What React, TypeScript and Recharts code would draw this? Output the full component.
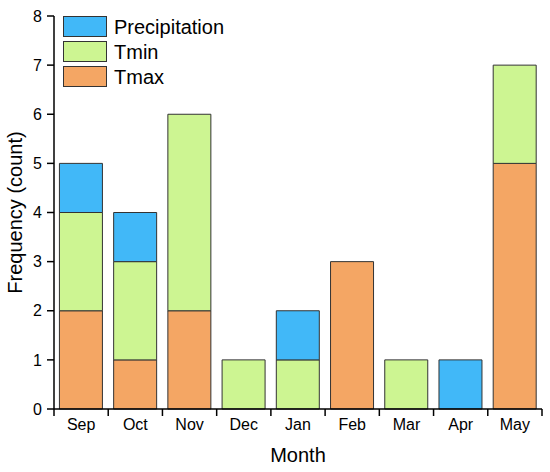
import React from "react";
import { BarChart, Bar, XAxis, YAxis, Legend } from "recharts";

const months = ["Sep", "Oct", "Nov", "Dec", "Jan", "Feb", "Mar", "Apr", "May"];
const tmax = [2, 1, 2, 0, 0, 3, 0, 0, 5];
const tmin = [2, 2, 4, 1, 1, 0, 1, 0, 2];
const precipitation = [1, 1, 0, 0, 1, 0, 0, 1, 0];
const yTicks = [0, 1, 2, 3, 4, 5, 6, 7, 8];

const data = months.map((m, i) => ({
  month: m,
  tmax: tmax[i],
  tmin: tmin[i],
  precipitation: precipitation[i],
}));

const W = 550;
const H = 472;
const MARGIN = { top: 16, right: 8, bottom: 0, left: 0 };
const Y_AXIS_W = 54;
const X_AXIS_H = 63;
const BAND = (W - MARGIN.left - MARGIN.right - Y_AXIS_W) / months.length;

const COLORS = {
  precipitation: "#41B8F8",
  tmin: "#CDF592",
  tmax: "#F4A664",
};
const EDGE = "#333333";

const MonthTick = (props: any) => {
  const { x, y, payload, index } = props;
  const half = BAND / 2;
  return (
    <g>
      <line x1={x - half} y1={y} x2={x - half} y2={y + 7} stroke="#000" strokeWidth={1.5} />
      {index === months.length - 1 && (
        <line x1={x + half} y1={y} x2={x + half} y2={y + 7} stroke="#000" strokeWidth={1.5} />
      )}
      <text x={x} y={y + 21} textAnchor="middle" fontSize={16} fill="#000">
        {payload.value}
      </text>
    </g>
  );
};

const legendOrder = [
  { key: "precipitation", label: "Precipitation" },
  { key: "tmin", label: "Tmin" },
  { key: "tmax", label: "Tmax" },
];

const LegendContent = () => (
  <div>
    {legendOrder.map((it) => (
      <div
        key={it.key}
        style={{ display: "flex", alignItems: "center", height: 25, lineHeight: "20px" }}
      >
        <div
          style={{
            width: 44,
            height: 21,
            boxSizing: "border-box",
            background: (COLORS as any)[it.key],
            border: `1px solid ${EDGE}`,
            marginRight: 7,
          }}
        />
        <span style={{ fontSize: 20, color: "#000" }}>{it.label}</span>
      </div>
    ))}
  </div>
);

export default function App() {
  return (
    <div
      style={{
        position: "absolute",
        left: 0,
        top: 0,
        width: W,
        height: H,
        fontFamily: "'Liberation Sans', Arial, sans-serif",
        background: "#fff",
      }}
    >
      <BarChart width={W} height={H} data={data} margin={MARGIN} barCategoryGap="10%">
        <XAxis
          dataKey="month"
          height={X_AXIS_H}
          tickSize={0}
          tickMargin={0}
          tickLine={false}
          tick={<MonthTick />}
          axisLine={{ stroke: "#000", strokeWidth: 1.5 }}
          interval={0}
          label={{ value: "Month", position: "insideBottom", offset: 10, fontSize: 20, fill: "#000" }}
        />
        <YAxis
          width={Y_AXIS_W}
          domain={[0, 8]}
          ticks={yTicks}
          interval={0}
          tickSize={7}
          tickMargin={5}
          tick={{ fontSize: 16, fill: "#000" }}
          tickLine={{ stroke: "#000", strokeWidth: 1.5 }}
          axisLine={{ stroke: "#000", strokeWidth: 1.5 }}
          label={{
            value: "Frequency (count)",
            angle: -90,
            position: "insideLeft",
            offset: 15,
            fontSize: 20,
            fill: "#000",
            style: { textAnchor: "middle" },
          }}
        />
        <Legend
          layout="horizontal"
          verticalAlign="middle"
          align="center"
          content={<LegendContent />}
          wrapperStyle={{ left: 63, top: 14, width: 200, height: 75 }}
        />
        <Bar dataKey="tmax" name="Tmax" stackId="a" fill={COLORS.tmax} stroke={EDGE} strokeWidth={1} isAnimationActive={false} />
        <Bar dataKey="tmin" name="Tmin" stackId="a" fill={COLORS.tmin} stroke={EDGE} strokeWidth={1} isAnimationActive={false} />
        <Bar dataKey="precipitation" name="Precipitation" stackId="a" fill={COLORS.precipitation} stroke={EDGE} strokeWidth={1} isAnimationActive={false} />
      </BarChart>
    </div>
  );
}
